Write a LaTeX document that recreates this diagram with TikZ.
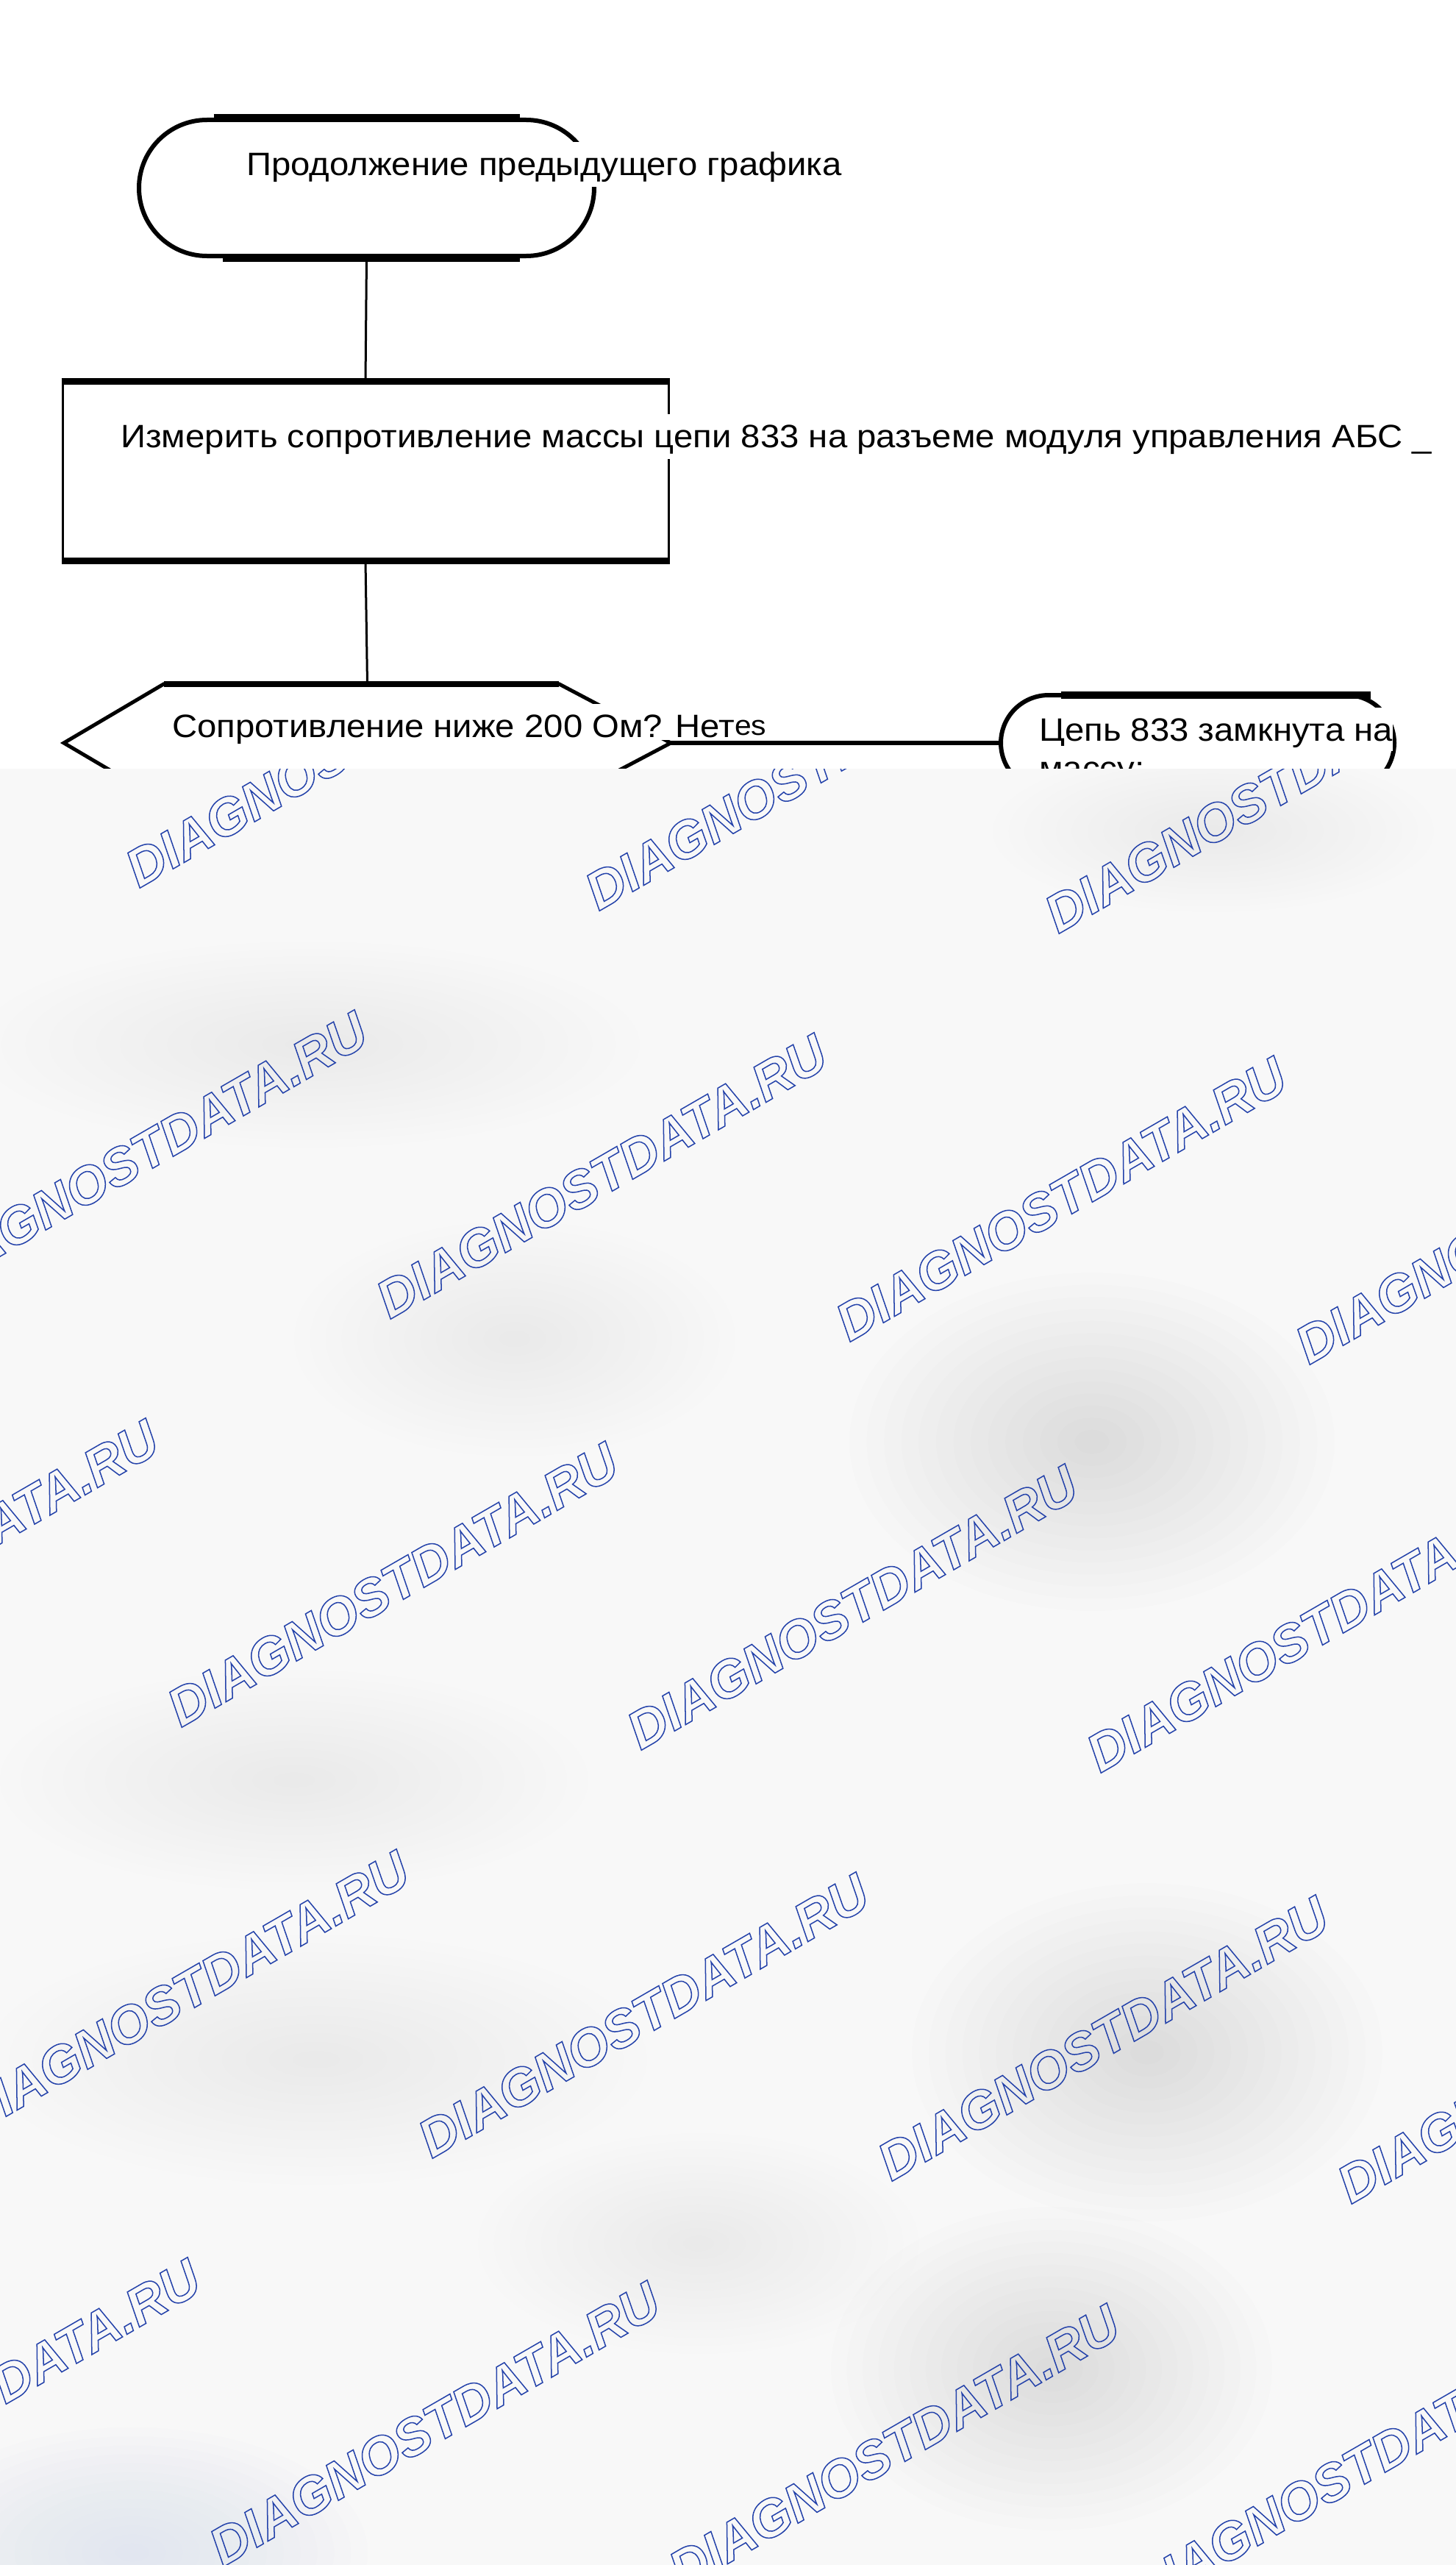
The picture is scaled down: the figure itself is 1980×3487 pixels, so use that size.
\documentclass[tikz,border=0pt]{standalone}
\usepackage{fontspec}
\setmainfont{Liberation Sans}[FakeStretch=1.075]
\newfontfamily\wmfont{Liberation Sans}
\usetikzlibrary{shapes.misc}
\definecolor{wmblue}{RGB}{36,66,170}
\definecolor{bgbase}{RGB}{248,248,248}
\definecolor{lav}{RGB}{190,198,240}
\newcommand{\outlined}[1]{\special{pdf:literal direct 1 Tr 1.5 w}#1\special{pdf:literal direct 0 Tr}}
% soft blob: x, y, x radius, y radius, fill style
\newcommand{\softblob}[5]{%
  \foreach \i in {1,...,14}{%
    \pgfmathsetmacro\brx{#3*(15-\i)/14}%
    \pgfmathsetmacro\bry{#4*(15-\i)/14}%
    \fill[#5] (#1,#2) ellipse [x radius=\brx pt, y radius=\bry pt];%
  }}
\tikzset{
  lbl/.style={anchor=base west, inner xsep=0pt, inner ysep=0pt, fill=white,
    font=\fontsize{44}{52}\selectfont, text height=45pt, text depth=16pt},
  termbox/.style={draw, rounded rectangle, line width=6pt, inner sep=0pt},
  heavy/.style={line width=10pt},
  wire/.style={line width=3pt},
  wm/.style={anchor=base west, rotate=30, inner sep=0pt, text=wmblue,
    font=\wmfont\bfseries\itshape\fontsize{72}{80}\selectfont},
  darkblob/.style={black, fill opacity=0.0068},
  lightblob/.style={black, fill opacity=0.0035},
  whiteblob/.style={white, fill opacity=0.1},
  lavblob/.style={lav, fill opacity=0.025},
}
\begin{document}
\begin{tikzpicture}[x=1pt,y=-1pt]
\useasboundingbox (0,0) rectangle (1980,3487);
\fill[white] (0,0) rectangle (1980,3487);

% ---- start terminator
\node[termbox, minimum width=619pt, minimum height=185pt] (start) at (498.5,255.5) {};
\draw[heavy] ([xshift=-208pt]start.north) -- ([xshift=208pt]start.north);
\draw[heavy] ([xshift=-196pt]start.south) -- ([xshift=208pt]start.south);
\node[lbl] (starttxt) at (335,238) {Продолжение предыдущего графика};

% ---- measure box
\node[draw, line width=3pt, inner sep=0pt, minimum width=824pt, minimum height=241pt] (measure) at (497,640.5) {};
\draw[line width=9pt] (measure.north west) -- (measure.north east);
\draw[line width=9pt] (measure.south west) -- (measure.south east);
\node[lbl] (measuretxt) at (164,608) {Измерить сопротивление массы цепи 833 на разъеме модуля управления АБС \_};

% ---- decision
\node[inner sep=0pt, minimum width=825pt, minimum height=160pt] (decision) at (499.5,1010) {};
\draw[line width=5pt, line join=miter]
  (decision.west) -- ([xshift=136pt]decision.north west)
  -- ([xshift=-152pt]decision.north east) -- (decision.east)
  -- ([xshift=-152pt]decision.south east) -- ([xshift=136pt]decision.south west) -- cycle;
\draw[line width=8pt] ([xshift=136pt]decision.north west) -- ([xshift=-152pt]decision.north east);

% ---- shorted terminator
\node[termbox, minimum width=535pt, minimum height=130pt] (shorted) at (1628.5,1010) {};
\draw[heavy] (1443,945) -- (1864,945);

% ---- connectors
\draw[wire] (start.south) -- (measure.north);
\draw[wire] (measure.south) -- (decision.north);
\draw[line width=6pt] (decision.east) -- (shorted.west);

% ---- labels over shapes
\node[lbl, text depth=4pt] (dectxt) at (234,1002) {Сопротивление ниже 200 Ом? Нет\raisebox{3pt}{\fontsize{38}{40}\selectfont es}};
\node[lbl, text depth=14pt] (shortedtxt) at (1413,1007) {Цепь 833 замкнута на};
\node[lbl, text depth=14pt] (shortedtxtb) at (1413,1059) {массу;};

% ---- watermark overlay
\begin{scope}
\clip (0,1045) rectangle (1980,3487);
\fill[bgbase] (0,1045) rectangle (1980,3487);
\softblob{1000}{1250}{450}{150}{whiteblob}
\softblob{1100}{2180}{500}{170}{whiteblob}
\softblob{250}{3050}{400}{150}{whiteblob}
\softblob{1000}{2560}{300}{120}{whiteblob}
\softblob{420}{1420}{450}{140}{lightblob}
\softblob{700}{1820}{300}{160}{lightblob}
\softblob{400}{2420}{400}{150}{lightblob}
\softblob{430}{2800}{450}{170}{lightblob}
\softblob{1650}{1130}{300}{110}{lightblob}
\softblob{950}{3050}{300}{150}{lightblob}
\softblob{1485}{1960}{330}{230}{darkblob}
\softblob{1560}{2790}{320}{230}{darkblob}
\softblob{1430}{3220}{300}{220}{darkblob}
\softblob{180}{3470}{320}{170}{lavblob}
\foreach \r in {0,...,4}{
  \foreach \c [count=\k] in {-3,...,3}{
    \pgfmathsetmacro\wx{189+341*\r+625*\c}
    \pgfmathsetmacro\wy{1208+586*\r+31*\c}
    \node[wm] (wm\r\k) at (\wx,\wy) {\outlined{DIAGNOSTDATA.RU}};
  }
}
\end{scope}
\end{tikzpicture}
\end{document}
